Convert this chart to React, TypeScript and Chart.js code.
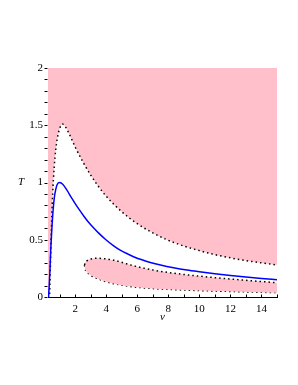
import React, { useEffect, useRef } from "react";
import { Chart, registerables } from "chart.js";

Chart.register(...registerables);

// Upper boundary of the pink region (dotted)
const vTop = [0.25, 0.34, 0.4, 0.45, 0.5, 0.55, 0.6, 0.7, 0.8, 0.9, 1.0, 1.1, 1.18, 1.4, 1.7, 2.0, 2.5, 3.0, 3.5, 4.0, 5.0, 6.0, 7.0, 8.0, 9.0, 10.0, 11.0, 12.0, 13.0, 14.0, 15.0];
const tTop = [0, 0.0, 0.25, 0.5, 0.72, 0.9, 1.03, 1.22, 1.34, 1.42, 1.47, 1.5, 1.51, 1.48, 1.4, 1.31, 1.18, 1.065, 0.965, 0.88, 0.745, 0.64, 0.56, 0.495, 0.445, 0.405, 0.37, 0.342, 0.318, 0.298, 0.28];

// Blue curve
const vBlue = [0.28, 0.33, 0.38, 0.43, 0.5, 0.58, 0.66, 0.75, 0.85, 1.0, 1.2, 1.46, 1.75, 2.0, 2.25, 2.54, 2.85, 3.18, 3.5, 3.98, 4.5, 4.9, 5.4, 5.76, 6.3, 6.84, 7.5, 8.34, 9.2, 10.0, 11.0, 12.0, 13.0, 14.0, 15.0];
const tBlue = [0, 0.1, 0.25, 0.42, 0.6, 0.76, 0.87, 0.94, 0.985, 1.0, 0.985, 0.935, 0.87, 0.815, 0.765, 0.71, 0.655, 0.605, 0.56, 0.5, 0.445, 0.41, 0.375, 0.352, 0.325, 0.302, 0.279, 0.255, 0.235, 0.22, 0.203, 0.188, 0.175, 0.162, 0.15];

// Island (closed pink region) upper and lower edges
const vIslUp = [2.6, 2.65, 2.8, 3.0, 3.3, 3.7, 4.2, 4.7, 5.3, 6.0, 7.0, 8.0, 9.0, 10.0, 11.0, 12.0, 13.0, 14.0, 15.0];
const tIslUp = [0.28, 0.3, 0.32, 0.332, 0.338, 0.337, 0.328, 0.315, 0.29, 0.265, 0.236, 0.214, 0.197, 0.182, 0.169, 0.157, 0.146, 0.135, 0.125];
const vIslLo = [2.6, 2.63, 2.72, 2.86, 3.0, 3.5, 4.0, 4.8, 5.5, 6.3, 7.2, 8.3, 10.0, 12.65, 15.0];
const tIslLo = [0.28, 0.25, 0.225, 0.205, 0.19, 0.158, 0.133, 0.108, 0.093, 0.081, 0.072, 0.065, 0.056, 0.046, 0.038];

const xMajor = [2, 4, 6, 8, 10, 12, 14];
const xMinor = [1, 3, 5, 7, 9, 11, 13, 15];
const yMajor = [0, 0.5, 1, 1.5, 2];
const yMinor = [0.1, 0.2, 0.3, 0.4, 0.6, 0.7, 0.8, 0.9, 1.1, 1.2, 1.3, 1.4, 1.6, 1.7, 1.8, 1.9];

const PINK = "rgb(255,192,203)";
const FONT = '"Liberation Serif", "Times New Roman", serif';

const zip = (xs: number[], ys: number[]) => xs.map((x, i) => ({ x, y: ys[i] }));

const decor = {
  id: "decor",
  afterDraw(chart: any) {
    const { ctx, chartArea, scales } = chart;
    const xs = scales.x;
    const ys = scales.y;
    ctx.save();
    ctx.strokeStyle = "#000";
    ctx.lineWidth = 1;
    ctx.beginPath();
    const by = Math.round(chartArea.bottom) + 0.5;
    const lx = Math.round(chartArea.left) - 0.5;
    [...xMajor, ...xMinor].forEach((v) => {
      const px = Math.round(xs.getPixelForValue(v)) + 0.5;
      ctx.moveTo(px, by);
      ctx.lineTo(px, by - 3);
    });
    [...yMajor, ...yMinor].forEach((v) => {
      const py = Math.round(ys.getPixelForValue(v)) + 0.5;
      ctx.moveTo(lx, py);
      ctx.lineTo(lx - 3, py);
    });
    ctx.stroke();
    ctx.fillStyle = "#000";
    ctx.font = "italic 11px " + FONT;
    ctx.textAlign = "center";
    ctx.textBaseline = "middle";
    ctx.fillText("v", (chartArea.left + chartArea.right) / 2, 317);
    ctx.fillText("T", 21, (chartArea.top + chartArea.bottom) / 2);
    ctx.restore();
  },
};

export default function App() {
  const ref = useRef<HTMLCanvasElement>(null);
  useEffect(() => {
    if (!ref.current) return;
    const dotted = { borderColor: "#000", borderWidth: 1.5, borderDash: [1.5, 3], borderCapStyle: "butt" };
    const chart = new Chart(ref.current, {
      type: "scatter",
      data: {
        datasets: [
          {
            data: zip(vBlue, tBlue),
            showLine: true,
            borderColor: "rgb(0,0,255)",
            borderWidth: 1.5,
            pointRadius: 0,
            cubicInterpolationMode: "monotone",
            fill: false,
          },
          {
            data: zip(vTop, tTop),
            showLine: true,
            ...dotted,
            pointRadius: 0,
            cubicInterpolationMode: "monotone",
            fill: "end",
            backgroundColor: PINK,
          },
          {
            data: zip(vIslUp, tIslUp),
            showLine: true,
            ...dotted,
            pointRadius: 0,
            cubicInterpolationMode: "monotone",
            fill: "+1",
            backgroundColor: PINK,
          },
          {
            data: zip(vIslLo, tIslLo),
            showLine: true,
            ...dotted,
            pointRadius: 0,
            cubicInterpolationMode: "monotone",
            fill: false,
          },
        ],
      } as any,
      options: {
        responsive: false,
        animation: false,
        layout: { padding: { top: 68, right: 21, left: 0, bottom: 0 } },
        plugins: { legend: { display: false }, tooltip: { enabled: false } },
        scales: {
          x: {
            type: "linear",
            min: 0.25,
            max: 15,
            grid: { display: false, drawTicks: false },
            border: { display: true, color: "#000", width: 1 },
            ticks: {
              color: "#000",
              padding: 6,
              font: { family: FONT, size: 11 },
              maxRotation: 0,
              autoSkip: false,
              callback: (v: any) => String(v),
            },
            afterBuildTicks: (s: any) => {
              s.ticks = xMajor.map((v) => ({ value: v }));
            },
            afterFit: (s: any) => {
              s.height = 88;
            },
          },
          y: {
            type: "linear",
            min: 0,
            max: 2,
            grid: { display: false, drawTicks: false },
            border: { display: true, color: "#000", width: 1 },
            ticks: {
              color: "#000",
              padding: 5,
              font: { family: FONT, size: 11 },
              autoSkip: false,
              callback: (v: any) => String(v),
            },
            afterBuildTicks: (s: any) => {
              s.ticks = yMajor.map((v) => ({ value: v }));
            },
            afterFit: (s: any) => {
              s.width = 48;
            },
          },
        },
      } as any,
      plugins: [decor],
    });
    return () => chart.destroy();
  }, []);
  return (
    <div style={{ position: "absolute", left: 0, top: 0, width: 298, height: 385, background: "#fff" }}>
      <canvas ref={ref} width={298} height={385} style={{ width: 298, height: 385, display: "block" }} />
    </div>
  );
}
